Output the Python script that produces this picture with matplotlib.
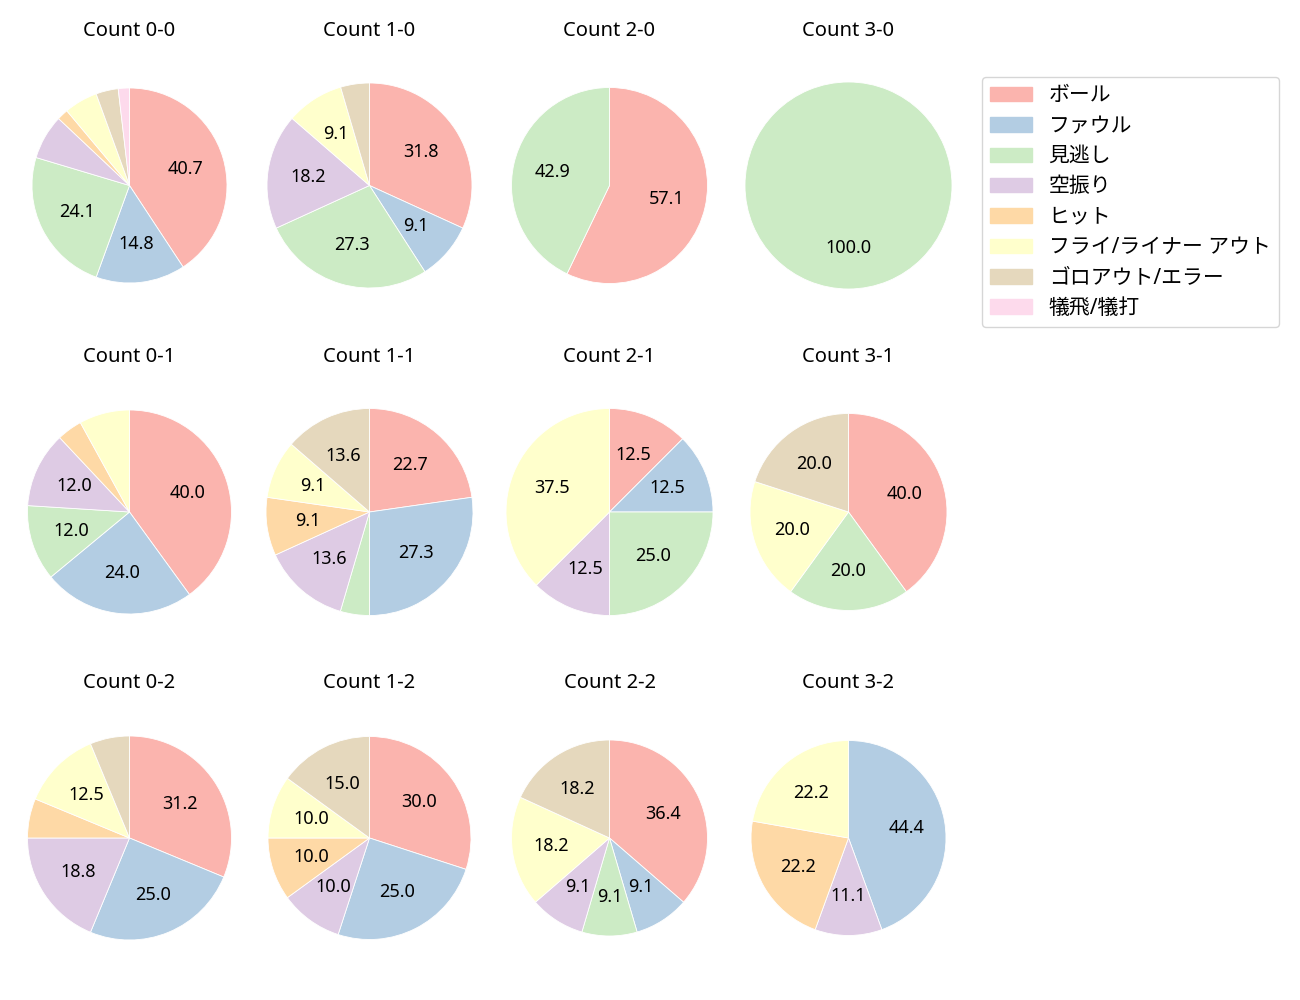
import numpy as np
import matplotlib.pyplot as plt

plt.rcParams['font.family'] = ['Noto Sans', 'Noto Sans CJK JP', 'DejaVu Sans']

results = ['ボール', 'ファウル', '見逃し', '空振り', 'ヒット',
           'フライ/ライナー アウト', 'ゴロアウト/エラー', '犠飛/犠打']
colors = plt.cm.Pastel1(np.arange(len(results)))

# counts per ball-strike situation, in the order of `results`
count_0_0 = [22, 8, 13, 4, 1, 3, 2, 1]
count_1_0 = [7, 2, 6, 4, 0, 2, 1, 0]
count_2_0 = [4, 0, 3, 0, 0, 0, 0, 0]
count_3_0 = [0, 0, 1, 0, 0, 0, 0, 0]
count_0_1 = [10, 6, 3, 3, 1, 2, 0, 0]
count_1_1 = [5, 6, 1, 3, 2, 2, 3, 0]
count_2_1 = [1, 1, 2, 1, 0, 3, 0, 0]
count_3_1 = [2, 0, 1, 0, 0, 1, 1, 0]
count_0_2 = [5, 4, 0, 3, 1, 2, 1, 0]
count_1_2 = [6, 5, 0, 2, 2, 2, 3, 0]
count_2_2 = [4, 1, 1, 1, 0, 2, 2, 0]
count_3_2 = [0, 4, 0, 1, 2, 2, 0, 0]

grid = [[count_0_0, count_1_0, count_2_0, count_3_0],
        [count_0_1, count_1_1, count_2_1, count_3_1],
        [count_0_2, count_1_2, count_2_2, count_3_2]]

W, H = 1300, 1000
fig = plt.figure(figsize=(13, 10), dpi=100)

# layout (pixels): pie centres and radii
cx = [129.5, 369.5, 609.5, 848.5]
cy = [185.5, 512, 838]
radii = [[97.5, 102.5, 98, 103.5],
         [102, 103.5, 103.5, 98.5],
         [102, 101.5, 98, 97.5]]
size = 250  # axes box, 2.5 data units -> 100 px per unit

def autopct(p):
    return f'{p:.1f}' if p >= 9 else ''

for s in range(3):
    for b in range(4):
        ax = fig.add_axes([(cx[b] - size / 2) / W, 1 - (cy[s] + size / 2) / H,
                           size / W, size / H])
        vals = np.array(grid[s][b])
        keep = vals > 0  # skip empty wedges so no stray edge lines are drawn
        ax.pie(vals[keep], colors=colors[keep], startangle=90, counterclock=False,
               radius=radii[s][b] / 100, autopct=autopct, pctdistance=0.6,
               wedgeprops=dict(edgecolor='white', linewidth=0.6),
               textprops=dict(fontsize=13))
        ax.set_xlim(-1.25, 1.25)
        ax.set_ylim(-1.25, 1.25)
        ax.set_title(f'Count {b}-{s}', fontsize=14.5, pad=18)

handles = [plt.Rectangle((0, 0), 1, 1, color=c) for c in colors]
fig.legend(handles, results, loc='upper left',
           bbox_to_anchor=(982 / W, 1 - 77 / H), fontsize=15,
           handlelength=2.0, handleheight=0.7, handletextpad=0.8,
           labelspacing=0.45, borderaxespad=0)

fig.savefig('out.png')
